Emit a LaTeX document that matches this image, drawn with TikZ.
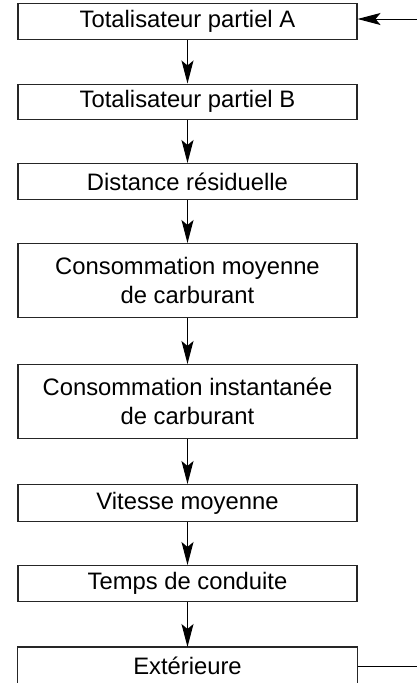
\documentclass[tikz,border=0pt]{standalone}
\usepackage{fontspec}
\setmainfont{Liberation Sans}
\usetikzlibrary{arrows.meta}
\begin{document}
\begin{tikzpicture}[x=1pt,y=-1pt,
  boxline/.style={draw=black!85, line width=1.1pt},
  box/.style={boxline, minimum width=339pt, inner sep=0pt, align=center,
    font=\fontsize{23.8}{29}\selectfont, anchor=north},
  arr/.style={line width=1pt, -{Stealth[length=23pt,width=12pt,inset=5pt]}}]
\useasboundingbox (0,0) rectangle (417,683);
\clip (0,0) rectangle (417,683);
\node[box, minimum height=36pt] (b1) at (187.5,3) {Totalisateur partiel A};
\node[box, minimum height=35pt] (b2) at (187.5,83.5) {Totalisateur partiel B};
\node[box, minimum height=36pt] (b3) at (187.5,163) {Distance résiduelle};
\node[box, minimum height=74pt] (b4) at (187.5,243) {Consommation moyenne\\de carburant};
\node[box, minimum height=74pt] (b5) at (187.5,364) {Consommation instantanée\\de carburant};
\node[box, minimum height=37pt] (b6) at (187.5,484) {Vitesse moyenne};
\node[box, minimum height=36pt] (b7) at (187.5,565) {Temps de conduite};
\node[box, draw=none, minimum height=36pt] (b8) at (187.5,647) {Extérieure};
\draw[boxline] ([yshift=-8pt]b8.south west) -- (b8.north west) -- (b8.north east) -- ([yshift=-8pt]b8.south east);
\draw[arr] (b1) -- (b2);
\draw[arr] (b2) -- (b3);
\draw[arr] (b3) -- (b4);
\draw[arr] (b4) -- (b5);
\draw[arr] (b5) -- (b6);
\draw[arr] (b6) -- (b7);
\draw[arr] (b7) -- (b8.north);
\coordinate (in) at (417,19);
\draw[arr] (in) -- (in -| b1.east);
\coordinate (out) at (417,666);
\draw[line width=1pt] (out -| b8.east) -- (out);
\end{tikzpicture}
\end{document}
